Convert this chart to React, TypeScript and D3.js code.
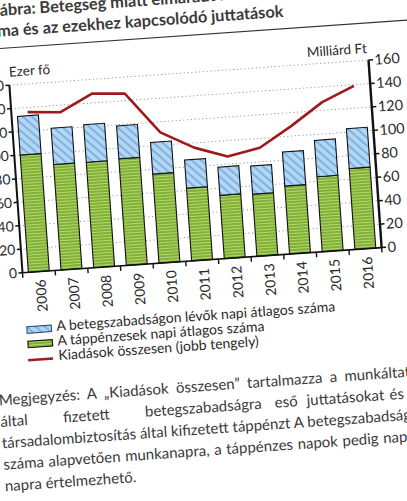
import React from 'react';
import * as d3 from 'd3';

const years = ['2006', '2007', '2008', '2009', '2010', '2011', '2012', '2013', '2014', '2015', '2016'];
// A táppénzesek napi átlagos száma (ezer fő) – green, bottom of stack
const sickPayDaily = [100, 90, 90, 91, 76, 62, 54, 53, 58, 64, 69];
// A betegszabadságon lévők napi átlagos száma (ezer fő) – blue, top of stack
const sickLeaveDaily = [33, 31, 32, 28, 27, 24, 24, 24, 29, 31, 34];
// Kiadások összesen (Milliárd Ft, jobb tengely)
const totalExpenditure = [136, 134, 148, 146, 111, 96, 86.5, 92, 108.5, 127, 139];
const leftTicks = [0, 20, 40, 60, 80, 100, 120, 140, 160];
const rightTicks = [0, 20, 40, 60, 80, 100, 120, 140, 160];
const legendLabels = [
  'A betegszabadságon lévők napi átlagos száma',
  'A táppénzesek napi átlagos száma',
  'Kiadások összesen (jobb tengely)',
];
const titleLines = ['ábra: Betegség miatt elmaradt munkanapok', 'száma és az ezekhez kapcsolódó juttatások'];
const noteLine1 = 'Megjegyzés: A „Kiadások összesen” tartalmazza a munkáltatók';
const noteLine2Words = ['által', 'fizetett', 'betegszabadságra', 'eső', 'juttatásokat', 'és', 'a'];
const noteLine3 = 'társadalombiztosítás által kifizetett táppénzt A betegszabadságon';
const noteLine4 = 'száma alapvetően munkanapra, a táppénzes napok pedig naptári';
const noteLine5 = 'napra értelmezhető.';

const W = 407;
const H = 501;
const X0 = 22.5;
const X1 = 382.5;
const Y_TOP = 84.7;
const Y0 = 272.7;
const ANGLE = -4;
const FONT = 'Lato, "Open Sans", sans-serif';
const TEXT = '#2a2a2a';

export default function App() {
  const x = d3.scaleBand<string>().domain(years).range([X0, X1]).paddingInner(0.36).paddingOuter(0.18);
  const yL = d3.scaleLinear().domain([0, 160]).range([Y0, Y_TOP]);
  const yR = d3.scaleLinear().domain([0, 160]).range([Y0, Y_TOP]);
  const bw = x.bandwidth();
  const cx = (yr: string) => (x(yr) as number) + bw / 2;

  const linePath = d3
    .line<number>()
    .x((_, i) => cx(years[i]))
    .y((d) => yR(d))(totalExpenditure) as string;

  const boundaries = d3.range(years.length + 1).map((i) => X0 + (i * (X1 - X0)) / years.length);

  // note line 2 word positions (justified line)
  const l2x = [-10, 53, 135, 265, 297, 380, 410];

  return (
    <svg
      width={W}
      height={H}
      style={{ position: 'absolute', left: 0, top: 0, background: '#fff' }}
      fontFamily={FONT}
    >
      <defs>
        <pattern id="greenPat" patternUnits="userSpaceOnUse" width="4" height="3">
          <rect width="4" height="3" fill="#80b038" />
          <rect y="0" width="4" height="1" fill="#b6d86c" />
        </pattern>
        <pattern id="bluePat" patternUnits="userSpaceOnUse" width="6" height="10" patternTransform="rotate(-45)">
          <rect width="6" height="10" fill="#b0d8f6" />
          <line x1="1" y1="0" x2="1" y2="10" stroke="#5f8fc8" strokeWidth="1.1" />
        </pattern>
      </defs>
      <rect width={W} height={H} fill="#fff" />
      <g transform={`rotate(${ANGLE}, ${X0}, ${Y0})`}>
        {/* title */}
        <text x={18} y={15} fontWeight="bold" fontSize={16.3} fill="#3a3a3a">
          {titleLines[0]}
        </text>
        <text x={-9} y={35.7} fontWeight="bold" fontSize={16.3} fill="#3a3a3a">
          {titleLines[1]}
        </text>
        <line x1={-20} x2={440} y1={47.5} y2={47.5} stroke="#333" strokeWidth={1.2} />

        {/* axis titles */}
        <text x={23} y={76.3} fontSize={13.5} fill={TEXT}>Ezer fő</text>
        <text x={381.5} y={77.4} fontSize={13.5} fill={TEXT} textAnchor="end">Milliárd Ft</text>

        {/* gridlines */}
        {leftTicks.filter((t) => t > 0).map((t) => (
          <line
            key={'g' + t}
            x1={X0}
            x2={X1}
            y1={yL(t)}
            y2={yL(t)}
            stroke="#9a9a9a"
            strokeWidth={1}
            strokeDasharray="1.2 2.6"
          />
        ))}

        {/* bars */}
        {years.map((yr, i) => {
          const g = sickPayDaily[i];
          const b = sickLeaveDaily[i];
          return (
            <g key={yr}>
              <rect
                x={x(yr)}
                y={yL(g)}
                width={bw}
                height={yL(0) - yL(g)}
                fill="url(#greenPat)"
                stroke="#111"
                strokeWidth={1.1}
              />
              <rect
                x={x(yr)}
                y={yL(g + b)}
                width={bw}
                height={yL(g) - yL(g + b)}
                fill="url(#bluePat)"
                stroke="#111"
                strokeWidth={1.1}
              />
            </g>
          );
        })}

        {/* line */}
        <path d={linePath} fill="none" stroke="#9e1a1c" strokeWidth={2.6} strokeLinejoin="round" />

        {/* left axis */}
        <line x1={X0} x2={X0} y1={Y_TOP} y2={Y0} stroke="#111" strokeWidth={2} />
        {leftTicks.map((t) => (
          <g key={'l' + t}>
            <line x1={X0 - 4} x2={X0} y1={yL(t)} y2={yL(t)} stroke="#111" strokeWidth={1.5} />
            <text x={X0 - 5.5} y={yL(t)} dy="0.35em" textAnchor="end" fontSize={14} fill={TEXT}>
              {t}
            </text>
          </g>
        ))}

        {/* right axis */}
        <line x1={X1} x2={X1} y1={Y_TOP} y2={Y0} stroke="#111" strokeWidth={2.4} />
        {rightTicks.map((t) => (
          <g key={'r' + t}>
            <line x1={X1} x2={X1 + 4.5} y1={yR(t)} y2={yR(t)} stroke="#111" strokeWidth={1.5} />
            <text x={X1 + 6} y={yR(t)} dy="0.35em" textAnchor="start" fontSize={14.5} fill={TEXT}>
              {t}
            </text>
          </g>
        ))}

        {/* bottom axis */}
        <line x1={X0} x2={X1} y1={Y0} y2={Y0} stroke="#111" strokeWidth={1.6} />
        {boundaries.map((bx, i) => (
          <line key={'b' + i} x1={bx} x2={bx} y1={Y0} y2={Y0 + 5} stroke="#111" strokeWidth={1.4} />
        ))}
        {years.map((yr) => (
          <text
            key={'t' + yr}
            transform={`translate(${cx(yr) + 6},${Y0 + 8}) rotate(-90)`}
            textAnchor="end"
            fontSize={14}
            fill={TEXT}
          >
            {yr}
          </text>
        ))}

        {/* legend */}
        <rect x={23} y={327} width={24.5} height={6.5} fill="url(#bluePat)" stroke="#2b4f7a" strokeWidth={1.1} />
        <text x={52.5} y={333} fontSize={14} fill={TEXT}>{legendLabels[0]}</text>
        <rect x={23} y={341.5} width={24.5} height={6.5} fill="url(#greenPat)" stroke="#111" strokeWidth={1.1} />
        <text x={52.5} y={347.7} fontSize={14} fill={TEXT}>{legendLabels[1]}</text>
        <line x1={22} x2={47} y1={360.5} y2={360.5} stroke="#9e1a1c" strokeWidth={2.6} />
        <text x={52.5} y={362.4} fontSize={14} fill={TEXT}>{legendLabels[2]}</text>

        {/* note */}
        <text x={-10} y={403.5} fontSize={15} fill="#3a3a3a" wordSpacing={3.5}>{noteLine1}</text>
        <text y={425} fontSize={15} fill="#3a3a3a">
          {noteLine2Words.map((w, i) => (
            <tspan key={w + i} x={l2x[i]}>{w}</tspan>
          ))}
        </text>
        <text x={-10} y={446.5} fontSize={15} fill="#3a3a3a">{noteLine3}</text>
        <text x={-10} y={468} fontSize={15} fill="#3a3a3a" wordSpacing={0.8}>{noteLine4}</text>
        <text x={-10} y={489.5} fontSize={15} fill="#3a3a3a">{noteLine5}</text>
      </g>
    </svg>
  );
}
